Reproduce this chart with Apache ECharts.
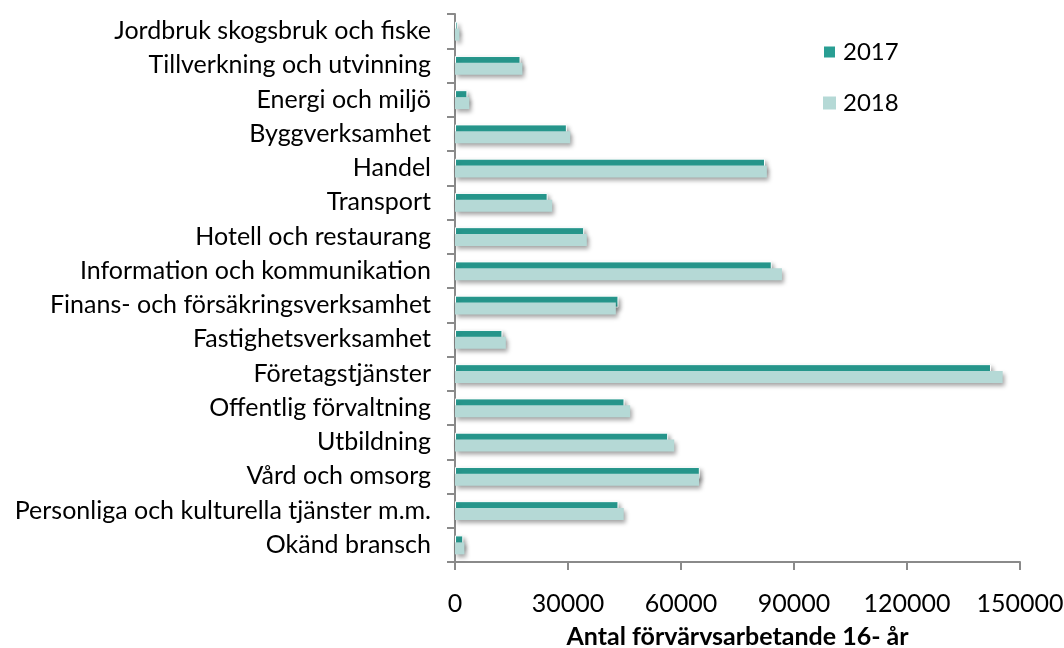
<!DOCTYPE html>
<html>
<head>
<meta charset="utf-8">
<script src="https://cdn.jsdelivr.net/npm/echarts@6/dist/echarts.min.js"></script>
<style>
html,body{margin:0;padding:0;background:#fff;}
#chart{width:1064px;height:648px;}
</style>
</head>
<body>
<div id="chart"></div>
<script>
const categories = [
  "Jordbruk skogsbruk och fiske",
  "Tillverkning och utvinning",
  "Energi och miljö",
  "Byggverksamhet",
  "Handel",
  "Transport",
  "Hotell och restaurang",
  "Information och kommunikation",
  "Finans- och försäkringsverksamhet",
  "Fastighetsverksamhet",
  "Företagstjänster",
  "Offentlig förvaltning",
  "Utbildning",
  "Vård och omsorg",
  "Personliga och kulturella tjänster m.m.",
  "Okänd bransch"
];
const values2017 = [700, 17400, 3300, 29700, 82300, 24600, 34300, 84100, 43400, 12600, 142300, 45000, 56600, 65000, 43400, 2200];
const values2018 = [1150, 17900, 3800, 30600, 82800, 25800, 35000, 86800, 42700, 13500, 145400, 46500, 58200, 64800, 44800, 2500];
const xTicks = [0, 30000, 60000, 90000, 120000, 150000];
const seriesNames = ["2017", "2018"];
const axisTitle = "Antal förvärvsarbetande 16- år";

const chart = echarts.init(document.getElementById('chart'), null, {renderer: 'canvas'});
const FONT = 'Lato';
const shadow = {shadowColor: 'rgba(0,0,0,0.35)', shadowBlur: 4, shadowOffsetX: 2, shadowOffsetY: 3};
chart.setOption({
  animation: false,
  backgroundColor: '#fff',
  textStyle: {fontFamily: FONT, color: '#000'},
  grid: {left: 455, right: 44, top: 14, bottom: 86, containLabel: false, outerBoundsMode: 'none'},
  legend: {
    orient: 'vertical', left: 817, top: 35, itemGap: 27,
    itemWidth: 13, itemHeight: 13, icon: 'rect',
    textStyle: {fontFamily: FONT, fontSize: 24, color: '#000', padding: [0,0,0,2]},
    data: seriesNames
  },
  xAxis: {
    type: 'value', min: xTicks[0], max: xTicks[xTicks.length-1], interval: 30000,
    splitLine: {show: false},
    axisLine: {show: true, lineStyle: {color: '#8a8a8a', width: 2}},
    axisTick: {show: true, length: 8, lineStyle: {color: '#8a8a8a', width: 2}},
    axisLabel: {fontFamily: FONT, fontSize: 25, color: '#000', margin: 29,
      formatter: function (v) { return String(v); }},
    name: axisTitle, nameLocation: 'middle', nameGap: 62,
    nameTextStyle: {fontFamily: FONT, fontSize: 25, fontWeight: 'bold', color: '#000'}
  },
  yAxis: {
    type: 'category', data: categories, inverse: true,
    axisLine: {show: true, lineStyle: {color: '#8a8a8a', width: 2}},
    axisTick: {show: true, length: 8, interval: 0, lineStyle: {color: '#8a8a8a', width: 2}},
    axisLabel: {fontFamily: FONT, fontSize: 25, color: '#000', margin: 24, interval: 0}
  },
  series: [
    {name: seriesNames[0], type: 'bar', data: values2017, barWidth: 12, barGap: '-42%',
     itemStyle: Object.assign({color: '#299e93', borderColor: '#ffffff', borderWidth: 1}, shadow)},
    {name: seriesNames[1], type: 'bar', data: values2018, barWidth: 12,
     itemStyle: Object.assign({color: '#b5d9d6'}, shadow)}
  ]
});
</script>
</body>
</html>
